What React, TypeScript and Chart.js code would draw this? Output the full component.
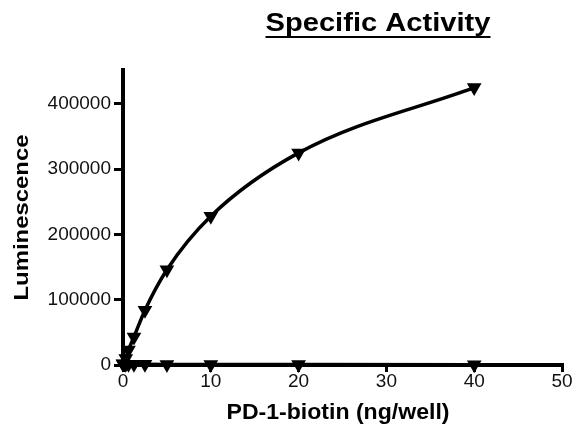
import React, { useEffect, useRef } from "react";
import { Chart, registerables } from "chart.js";

Chart.register(...registerables);

const doses = [0, 0.3125, 0.625, 1.25, 2.5, 5, 10, 20, 40];
const specificSignal = [2000, 10000, 23000, 43000, 84000, 146000, 228000, 325000, 425000];
const backgroundSignal = [1500, 1200, 1000, 1000, 1000, 800, 700, 600, 500];
const xTicks = [0, 10, 20, 30, 40, 50];
const yTicks = [0, 100000, 200000, 300000, 400000];

const titleText = "Specific Activity";
const xTitle = "PD-1-biotin (ng/well)";
const yTitle = "Luminescence";

const FONT = "'Liberation Sans', Arial, sans-serif";

function drawFitted(ctx: any, text: string, targetWidth: number) {
  const w = ctx.measureText(text).width;
  const s = targetWidth / w;
  ctx.save();
  ctx.scale(s, 1);
  ctx.fillText(text, 0, 0);
  ctx.restore();
  return targetWidth;
}

const textPlugin = {
  id: "customText",
  afterDraw(chart: any) {
    const ctx = chart.ctx;
    const area = chart.chartArea;
    ctx.save();
    ctx.fillStyle = "#000";
    ctx.strokeStyle = "#000";
    ctx.textAlign = "center";
    ctx.textBaseline = "alphabetic";
    // main title
    ctx.font = `bold 26px ${FONT}`;
    const tx = 378;
    const ty = 31;
    ctx.save();
    ctx.translate(tx, ty);
    drawFitted(ctx, titleText, 225);
    ctx.restore();
    ctx.lineWidth = 2;
    ctx.beginPath();
    ctx.moveTo(tx - 225 / 2, ty + 6);
    ctx.lineTo(tx + 225 / 2, ty + 6);
    ctx.stroke();
    // x title
    ctx.font = `bold 22px ${FONT}`;
    ctx.save();
    ctx.translate(338, 419);
    drawFitted(ctx, xTitle, 223);
    ctx.restore();
    // y title
    ctx.font = `bold 20px ${FONT}`;
    ctx.save();
    ctx.translate(28, (area.top + area.bottom) / 2);
    ctx.rotate(-Math.PI / 2);
    drawFitted(ctx, yTitle, 166);
    ctx.restore();
    ctx.restore();
  },
};

export default function App() {
  const ref = useRef<HTMLCanvasElement>(null);
  useEffect(() => {
    const canvas = ref.current;
    if (!canvas) return;
    const chart = new Chart(canvas, {
      type: "line",
      data: {
        datasets: [
          {
            label: "Specific",
            data: doses.map((d, i) => ({ x: d, y: specificSignal[i] })),
            borderColor: "#000",
            backgroundColor: "#000",
            borderWidth: 3.5,
            cubicInterpolationMode: "monotone",
            pointStyle: "triangle",
            rotation: 180,
            pointRadius: 5,
            clip: false,
          } as any,
          {
            label: "Background",
            data: doses.map((d, i) => ({ x: d, y: backgroundSignal[i] })),
            borderColor: "#000",
            backgroundColor: "#000",
            borderWidth: 3.5,
            pointStyle: "triangle",
            rotation: 180,
            pointRadius: 5,
            clip: false,
          } as any,
        ],
      },
      options: {
        animation: false,
        responsive: false,
        devicePixelRatio: 1,
        layout: { padding: { left: 0, right: 11, top: 70, bottom: 0 } },
        plugins: { legend: { display: false }, tooltip: { enabled: false }, title: { display: false } },
        scales: {
          x: {
            type: "linear",
            min: 0,
            max: 50,
            afterFit: (s: any) => { s.height = 67; },
            afterBuildTicks: (s: any) => { s.ticks = xTicks.map((v) => ({ value: v })); },
            border: { display: true, width: 4, color: "#000" },
            grid: { display: true, drawOnChartArea: false, drawTicks: true, tickLength: 7, lineWidth: 3, color: "#000" },
            ticks: { color: "#111", padding: -2, callback: (v: any) => String(v), font: { size: 19, family: FONT } },
          },
          y: {
            type: "linear",
            min: 0,
            max: 452000,
            afterFit: (s: any) => { s.width = 123; },
            afterBuildTicks: (s: any) => { s.ticks = yTicks.map((v) => ({ value: v })); },
            border: { display: true, width: 4, color: "#000" },
            grid: { display: true, drawOnChartArea: false, drawTicks: true, tickLength: 9, lineWidth: 3, color: "#000" },
            ticks: { color: "#111", padding: 3, callback: (v: any) => String(v), font: { size: 19, family: FONT } },
          },
        },
      },
      plugins: [textPlugin],
    } as any);
    return () => chart.destroy();
  }, []);
  return (
    <div style={{ position: "fixed", left: 0, top: 0, width: 573, height: 432, background: "#fff" }}>
      <canvas ref={ref} width={573} height={432} />
    </div>
  );
}
